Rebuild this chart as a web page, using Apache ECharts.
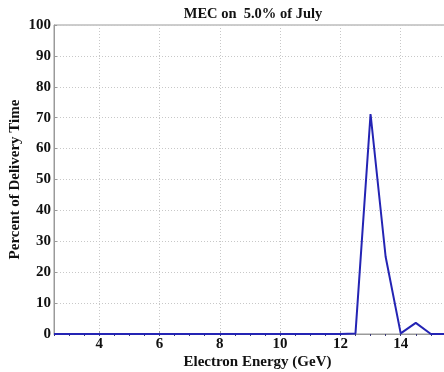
<!DOCTYPE html>
<html>
<head>
<meta charset="utf-8">
<style>
  html, body { margin: 0; padding: 0; background: #fff; overflow: hidden; width: 444px; height: 372px; }
  #chart { width: 470px; height: 372px; }
</style>
<script src="https://cdn.jsdelivr.net/npm/echarts@6/dist/echarts.min.js"></script>
</head>
<body>
<div id="chart"></div>
<script>
// Electron energy bins (GeV) and share of delivery time (%)
const energies = [2.5, 3, 3.5, 4, 4.5, 5, 5.5, 6, 6.5, 7, 7.5, 8, 8.5, 9, 9.5, 10,
                  10.5, 11, 11.5, 12, 12.5, 13, 13.5, 14, 14.5, 15, 15.5];
const percents = [0, 0, 0, 0, 0, 0, 0, 0, 0, 0, 0, 0, 0, 0, 0, 0,
                  0, 0, 0, 0, 0.2, 71.2, 25, 0.2, 3.6, 0, 0];
const xTicks = [4, 6, 8, 10, 12, 14, 16];
const titleText = 'MEC on  5.0% of July';
const xName = 'Electron Energy (GeV)';
const yName = 'Percent of Delivery Time';

const font = 'Liberation Serif, Times New Roman, serif';
const chart = echarts.init(document.getElementById('chart'), null, { renderer: 'canvas' });

const gridLine = { show: true, lineStyle: { color: '#c8c8c8', type: [1, 2], width: 1 } };

chart.setOption({
  animation: false,
  backgroundColor: '#fff',
  title: {
    text: titleText,
    left: 248, top: 2,
    textAlign: 'center',
    textStyle: { fontFamily: font, fontWeight: 'bold', fontSize: 14.5, color: '#111' }
  },
  grid: {
    left: 54, right: 9, top: 25, bottom: 38,
    containLabel: false,
    outerBoundsMode: 'none',
    show: true, borderColor: '#9a9a9a', borderWidth: 1, backgroundColor: '#fff'
  },
  xAxis: [{
    type: 'value',
    min: 2.5, max: 16,
    name: xName,
    nameLocation: 'middle',
    nameGap: 21,
    nameMoveOverlap: false,
    nameTextStyle: { fontFamily: font, fontWeight: 'bold', fontSize: 15, color: '#111' },
    axisLine: { show: true, lineStyle: { color: '#9a9a9a', width: 1 } },
    axisTick: { show: true, inside: true, length: 3, customValues: xTicks, lineStyle: { color: '#9a9a9a' } },
    axisLabel: {
      customValues: xTicks,
      margin: 3,
      fontFamily: font, fontWeight: 'bold', fontSize: 15, color: '#111'
    },
    splitLine: gridLine
  }, {
    // small half-step ticks under the baseline
    type: 'value',
    position: 'bottom',
    offset: 0,
    min: 2.5, max: 16, interval: 0.5,
    axisLine: { show: false },
    axisTick: { show: true, inside: false, length: 2, lineStyle: { color: '#3a3a7a', width: 1 } },
    axisLabel: { show: false },
    splitLine: { show: false }
  }],
  yAxis: {
    type: 'value',
    min: 0, max: 100, interval: 10,
    name: yName,
    nameLocation: 'middle',
    nameGap: 31,
    nameMoveOverlap: false,
    nameTextStyle: { fontFamily: font, fontWeight: 'bold', fontSize: 15, color: '#111' },
    axisLine: { show: true, lineStyle: { color: '#9a9a9a', width: 1 } },
    axisTick: { show: true, inside: true, length: 3, lineStyle: { color: '#9a9a9a' } },
    axisLabel: { margin: 3, fontFamily: font, fontWeight: 'bold', fontSize: 15, color: '#111' },
    splitLine: gridLine
  },
  series: [{
    type: 'line',
    xAxisIndex: 0,
    data: energies.map((e, i) => [e, percents[i]]),
    showSymbol: false,
    lineStyle: { color: '#2424b4', width: 2 },
    itemStyle: { color: '#2424b4' },
    z: 5
  }]
});
</script>
</body>
</html>
